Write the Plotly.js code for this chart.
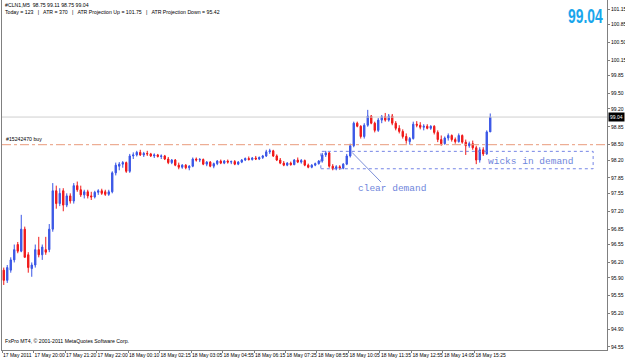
<!DOCTYPE html>
<html><head><meta charset="utf-8">
<script src="https://cdn.plot.ly/plotly-3.0.1.min.js"></script>
<style>html,body{margin:0;padding:0;background:#fff}#chart{width:625px;height:360px}</style>
</head><body><div id="chart"></div>
<script>
// OHLC of 5-minute bars
const openP  = [96.05,95.85,96.05,96.25,96.55,96.42,96.85,96.35,96.08,96.15,96.45,96.35,96.45,96.45,96.85,97.60,97.35,97.60,97.32,97.50,
  97.40,97.70,97.62,97.52,97.58,97.50,97.48,97.57,97.60,97.58,97.53,97.58,97.95,98.08,98.12,98.15,97.98,98.28,98.30,98.35,
  98.30,98.33,98.32,98.28,98.30,98.27,98.28,98.22,98.15,98.20,98.10,98.06,98.10,98.05,98.08,98.22,98.20,98.21,98.12,98.16,
  98.08,98.13,98.18,98.14,98.18,98.16,98.17,98.12,98.16,98.20,98.23,98.21,98.24,98.22,98.25,98.28,98.36,98.38,98.28,98.20,
  98.14,98.10,98.14,98.11,98.20,98.16,98.19,98.10,98.06,98.10,98.13,98.18,98.30,98.34,98.08,98.03,98.07,98.04,98.12,98.28,
  98.48,98.92,98.86,98.66,98.88,99.06,98.92,98.78,98.98,99.05,98.98,99.06,98.92,98.82,98.76,98.66,98.56,98.62,98.90,98.88,
  98.84,98.86,98.82,98.86,98.74,98.60,98.52,98.63,98.68,98.60,98.56,98.68,98.55,98.48,98.52,98.44,98.20,98.40,98.32,98.75];
const highP  = [96.10,96.15,96.30,96.55,96.60,97.13,96.90,96.40,96.20,96.55,96.70,96.55,96.70,96.95,97.75,97.70,97.65,97.65,97.55,97.55,
  97.75,97.78,97.70,97.62,97.62,97.58,97.60,97.63,97.64,97.62,97.62,97.98,98.15,98.16,98.18,98.17,98.32,98.35,98.38,98.40,
  98.36,98.38,98.34,98.33,98.32,98.31,98.30,98.26,98.22,98.22,98.15,98.12,98.12,98.10,98.25,98.25,98.24,98.23,98.18,98.18,
  98.15,98.20,98.21,98.20,98.21,98.19,98.20,98.18,98.22,98.25,98.27,98.26,98.28,98.27,98.30,98.40,98.42,98.40,98.31,98.24,
  98.18,98.16,98.17,98.22,98.25,98.22,98.21,98.13,98.12,98.15,98.20,98.34,98.38,98.36,98.12,98.10,98.10,98.14,98.32,98.52,
  98.95,98.95,98.88,98.92,99.18,99.08,98.95,99.02,99.08,99.12,99.10,99.10,98.96,98.88,98.80,98.72,98.65,98.95,98.96,98.94,
  98.90,98.90,98.88,98.88,98.78,98.68,98.66,98.72,98.70,98.64,98.72,98.70,98.60,98.56,98.58,98.48,98.45,98.45,98.78,99.11];
const lowP   = [95.76,95.80,96.00,96.20,96.38,96.40,96.30,96.00,95.92,96.10,96.30,96.25,96.35,96.40,96.80,97.25,97.30,97.20,97.28,97.35,
  97.35,97.58,97.48,97.45,97.45,97.42,97.45,97.52,97.52,97.50,97.50,97.55,97.90,98.00,98.05,97.95,97.95,98.22,98.27,98.28,
  98.26,98.28,98.26,98.24,98.25,98.22,98.20,98.12,98.12,98.08,98.02,98.03,98.02,98.00,98.06,98.17,98.16,98.10,98.08,98.06,
  98.04,98.10,98.12,98.12,98.13,98.12,98.10,98.10,98.14,98.18,98.19,98.19,98.20,98.20,98.22,98.26,98.32,98.26,98.18,98.12,
  98.08,98.08,98.09,98.10,98.14,98.13,98.08,98.04,98.04,98.08,98.11,98.15,98.26,98.05,98.00,98.00,98.01,98.02,98.10,98.25,
  98.45,98.84,98.62,98.62,98.85,98.90,98.74,98.75,98.92,98.95,98.95,98.88,98.78,98.72,98.62,98.52,98.50,98.60,98.84,98.80,
  98.78,98.80,98.79,98.70,98.55,98.48,98.50,98.58,98.56,98.52,98.54,98.52,98.30,98.44,98.40,98.12,98.15,98.28,98.30,98.75];
const closeP = [95.85,96.10,96.25,96.45,96.42,96.85,96.30,96.10,96.15,96.45,96.35,96.50,96.40,96.85,97.60,97.35,97.55,97.32,97.50,97.40,
  97.70,97.62,97.52,97.58,97.50,97.48,97.57,97.60,97.55,97.53,97.58,97.95,98.10,98.12,98.15,97.98,98.28,98.30,98.35,98.30,
  98.33,98.32,98.28,98.30,98.27,98.28,98.22,98.15,98.20,98.10,98.06,98.10,98.05,98.08,98.22,98.20,98.21,98.12,98.16,98.08,
  98.13,98.18,98.14,98.18,98.16,98.17,98.12,98.16,98.20,98.23,98.21,98.24,98.22,98.25,98.28,98.36,98.38,98.28,98.20,98.14,
  98.10,98.14,98.11,98.20,98.16,98.19,98.10,98.06,98.10,98.13,98.18,98.30,98.34,98.08,98.03,98.07,98.04,98.12,98.28,98.48,
  98.92,98.86,98.66,98.88,99.06,98.92,98.78,98.98,99.05,98.98,99.06,98.92,98.82,98.76,98.66,98.58,98.62,98.90,98.88,98.84,
  98.86,98.82,98.86,98.74,98.60,98.52,98.63,98.68,98.60,98.56,98.68,98.55,98.48,98.52,98.44,98.20,98.40,98.32,98.75,99.04];

// time-axis labels (bar number where each label starts)
const timeLabelBars = [0,9,18,27,36,45,54,63,72,81,90,99,108,117,126,135];
const timeLabels = ["17 May 2011","17 May 20:00","17 May 21:20","17 May 22:00","18 May 00:10","18 May 02:15",
  "18 May 03:05","18 May 04:55","18 May 06:15","18 May 07:25","18 May 08:55","18 May 10:05",
  "18 May 11:35","18 May 12:55","18 May 14:05","18 May 15:25"];
// price-axis labels
const priceTicks = [101.15,100.85,100.50,100.15,99.85,99.50,99.20,98.85,98.50,98.20,97.85,97.55,97.20,96.85,96.55,96.20,95.90,95.55,95.20,94.90,94.55];

const lastPrice = 99.04;
const orderLevel = 98.50;
const demandTop = 98.37, demandBottom = 98.03;

const barX = openP.map((_, i) => i);
const axisFont = {family: "Liberation Sans, Arial, sans-serif", size: 5, color: "#000"};

const trace = {
  type: "candlestick", x: barX, open: openP, high: highP, low: lowP, close: closeP,
  increasing: {line: {color: "#3a56e6", width: 1}, fillcolor: "#3a56e6"},
  decreasing: {line: {color: "#f01818", width: 1}, fillcolor: "#f01818"},
  whiskerwidth: 0, hoverinfo: "none", showlegend: false
};

const smallFont = {family: "Liberation Sans, Arial, sans-serif", size: 5.2, color: "#000"};
const noteFont = {family: "Liberation Mono, Courier New, monospace", size: 9.5, color: "#6f86dc"};

const layout = {
  width: 625, height: 360,
  margin: {l: 2, r: 18, t: 0, b: 10, pad: 0},
  paper_bgcolor: "#fff", plot_bgcolor: "#fff",
  showlegend: false,
  boxgap: 0.45,
  xaxis: {
    range: [-0.5, 172.36], rangeslider: {visible: false}, showgrid: false, zeroline: false,
    showline: true, linecolor: "#808080", linewidth: 1,
    tickmode: "array", tickvals: timeLabelBars.map(b => b - 0.5), ticktext: timeLabels,
    tickangle: 0, automargin: false,
    ticks: "outside", ticklen: 2, tickcolor: "#808080", tickfont: axisFont,
    ticklabelposition: "outside right", fixedrange: true
  },
  yaxis: {
    side: "right", range: [94.49, 101.326], showgrid: false, zeroline: false,
    showline: true, mirror: true, linecolor: "#808080", linewidth: 1,
    tickmode: "array", tickvals: priceTicks, ticktext: priceTicks.map(v => v.toFixed(2)),
    automargin: false,
    ticks: "outside", ticklen: 2, tickcolor: "#808080", tickfont: axisFont, fixedrange: true
  },
  shapes: [
    {type: "line", xref: "paper", x0: 0, x1: 1, yref: "y", y0: lastPrice, y1: lastPrice,
     line: {color: "#cfcfcf", width: 1}},
    {type: "line", xref: "paper", x0: 0, x1: 1, yref: "y", y0: orderLevel, y1: orderLevel,
     line: {color: "#e99a7c", width: 1, dash: "dashdot"}},
    {type: "rect", xref: "x", yref: "y", x0: 90.6, x1: 168.4, y0: demandBottom, y1: demandTop,
     line: {color: "#7585e6", width: 1, dash: "dot"}},
    {type: "line", xref: "x", yref: "y", x0: 99.5, y0: 98.35, x1: 107.8, y1: 97.77,
     line: {color: "#7c8fd8", width: 1}}
  ],
  annotations: [
    {xref: "paper", yref: "paper", x: 0.002, y: 0.999, xanchor: "left", yanchor: "top", showarrow: false,
     align: "left", font: smallFont,
     text: "#CLN1,M5  98.75 99.11 98.75 99.04<br>Today = 123   |   ATR = 370   |   ATR Projection Up = 101.75   |   ATR Projection Down = 95.42"},
    {xref: "paper", yref: "y", x: 0.004, y: orderLevel + 0.015, xanchor: "left", yanchor: "bottom", showarrow: false,
     font: smallFont, text: "#15242470 buy"},
    {xref: "paper", yref: "paper", x: 0.002, y: 0.012, xanchor: "left", yanchor: "bottom", showarrow: false,
     font: smallFont, text: "FxPro MT4, © 2001-2011 MetaQuotes Software Corp."},
    {xref: "paper", yref: "paper", x: 0.997, y: 0.995, xanchor: "right", yanchor: "top", showarrow: false,
     font: {family: "Liberation Sans, Arial, sans-serif", size: 21, color: "#19a6ec", weight: "bold"},
     text: "<b>99.04</b>", name: "bigPrice"},
    {xref: "paper", yref: "y", x: 1, y: lastPrice, xanchor: "left", yanchor: "middle", showarrow: false,
     bgcolor: "#000", borderpad: 1, xshift: 1,
     font: {family: "Liberation Sans, Arial, sans-serif", size: 5, color: "#fff"}, text: "99.04"},
    {xref: "x", yref: "y", x: 110.9, y: 97.64, showarrow: false, font: noteFont, text: "clear demand"},
    {xref: "x", yref: "y", x: 150.6, y: 98.18, showarrow: false, font: noteFont, text: "wicks in demand"}
  ]
};

Plotly.newPlot("chart", [trace], layout, {staticPlot: true, displayModeBar: false}).then(() => {
  // narrow the big price read-out horizontally, like the condensed font of the original
  const anns = document.querySelectorAll("#chart .annotation");
  const t = anns[3] && anns[3].querySelector("text");
  if (t) {
    const bb = t.getBBox();
    const rx = bb.x + bb.width;
    t.setAttribute("transform", `translate(${rx} 0) scale(0.66 1) translate(${-rx} 0)`);
  }
});
</script>
</body></html>
